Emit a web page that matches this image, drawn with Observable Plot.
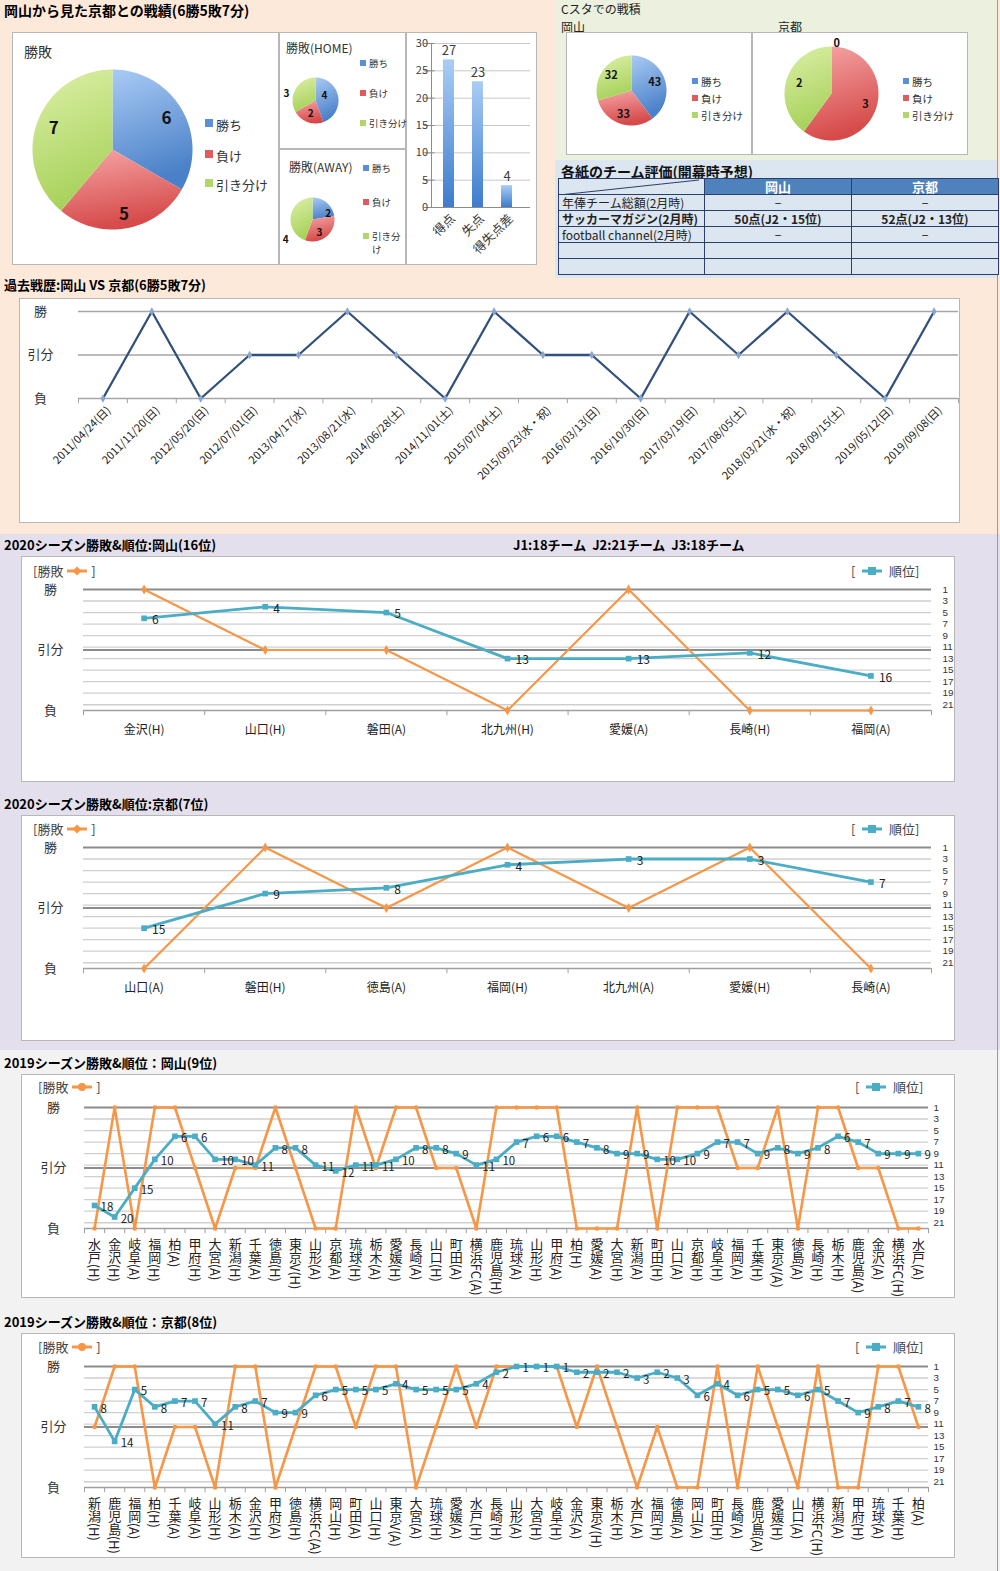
<!DOCTYPE html>
<html lang="ja"><head><meta charset="utf-8">
<script src="https://cdn.jsdelivr.net/npm/d3@7"></script>
<script src="https://cdn.jsdelivr.net/npm/@observablehq/plot@0.6"></script>
<style>
html,body{margin:0;padding:0;background:#fff;}
body{font-family:"Noto Sans CJK JP","Noto Sans",sans-serif;color:#000;}
#page{position:relative;width:1000px;height:1571px;overflow:hidden;}
.box{position:absolute;background:#fff;border:1px solid #b7b7b7;box-sizing:border-box;}
table.ev{position:absolute;border-collapse:collapse;table-layout:fixed;}
table.ev td{border:1px solid #2a3f6a;height:15px;padding:0 3px;font-size:12px;text-align:center;line-height:15px;background:#dce6f1;overflow:hidden;white-space:nowrap;color:#222;}
table.ev tr.hd td{background:#4f81bd;color:#fff;font-weight:bold;font-size:13px;line-height:15px;}
</style></head><body>
<svg width="0" height="0" style="position:absolute">
<defs>
<linearGradient id="gBlue" x1="0" y1="0" x2="0.25" y2="1"><stop offset="0" stop-color="#a9cbf4"/><stop offset="1" stop-color="#4a80c8"/></linearGradient>
<linearGradient id="gRed" x1="0" y1="0" x2="0.25" y2="1"><stop offset="0" stop-color="#f6a7a7"/><stop offset="1" stop-color="#d64a4a"/></linearGradient>
<linearGradient id="gGreen" x1="0" y1="0" x2="0.25" y2="1"><stop offset="0" stop-color="#ddf0a8"/><stop offset="1" stop-color="#a8d25c"/></linearGradient>
<linearGradient id="gBar" x1="0" y1="0" x2="0" y2="1"><stop offset="0" stop-color="#a9cdf5"/><stop offset="1" stop-color="#3d7ccd"/></linearGradient>
</defs></svg>
<div id="page"></div>
<script>
// ================= DATA =================
const pageTitle = "岡山から見た京都との戦績(6勝5敗7分)";
const resultNames = ["勝ち", "負け", "引き分け"];
const overallCounts = [6, 5, 7];
const homeCounts = [4, 2, 3];
const awayCounts = [2, 3, 4];

const goalLabels = ["得点", "失点", "得失点差"];
const goalValues = [27, 23, 4];
const goalTicks = [0, 5, 10, 15, 20, 25, 30];

const cstaOkayamaCounts = [43, 33, 32];
const cstaKyotoCounts = [0, 3, 2];

const tableTitle = "各紙のチーム評価(開幕時予想)";
const tableTeams = ["岡山", "京都"];
const tableRowLabels = ["年俸チーム総額(2月時)", "サッカーマガジン(2月時)", "football channel(2月時)", "", ""];
const tableOkayama = ["−", "50点(J2・15位)", "−", "", ""];
const tableKyoto = ["−", "52点(J2・13位)", "−", "", ""];

const histTitle = "過去戦歴:岡山 VS 京都(6勝5敗7分)";
const histDates = ["2011/04/24(日)", "2011/11/20(日)", "2012/05/20(日)", "2012/07/01(日)", "2013/04/17(水)", "2013/08/21(水)", "2014/06/28(土)", "2014/11/01(土)", "2015/07/04(土)", "2015/09/23(水・祝)", "2016/03/13(日)", "2016/10/30(日)", "2017/03/19(日)", "2017/08/05(土)", "2018/03/21(水・祝)", "2018/09/15(土)", "2019/05/12(日)", "2019/09/08(日)"];
const histResults = ["負", "勝", "負", "分", "分", "勝", "分", "負", "勝", "分", "分", "負", "勝", "分", "勝", "分", "負", "勝"];
const histLevelLabels = ["負", "引分", "勝"];

const resultTickLabels = ["勝", "引分", "負"];
const rankTicks = [1, 3, 5, 7, 9, 11, 13, 15, 17, 19, 21];

const okayama2020Title = "2020シーズン勝敗&順位:岡山(16位)";
const leagueNote = "J1:18チーム&nbsp;&nbsp;J2:21チーム&nbsp;&nbsp;J3:18チーム";
const okayama2020Opponents = ["金沢(H)", "山口(H)", "磐田(A)", "北九州(H)", "愛媛(A)", "長崎(H)", "福岡(A)"];
const okayama2020Results = ["勝", "分", "分", "負", "勝", "負", "負"];
const okayama2020Ranks = [6, 4, 5, 13, 13, 12, 16];

const kyoto2020Title = "2020シーズン勝敗&順位:京都(7位)";
const kyoto2020Opponents = ["山口(A)", "磐田(H)", "徳島(A)", "福岡(H)", "北九州(A)", "愛媛(H)", "長崎(A)"];
const kyoto2020Results = ["負", "勝", "分", "勝", "分", "勝", "負"];
const kyoto2020Ranks = [15, 9, 8, 4, 3, 3, 7];

const okayama2019Title = "2019シーズン勝敗&順位：岡山(9位)";
const okayama2019Opponents = ["水戸(H)", "金沢(H)", "岐阜(A)", "福岡(H)", "柏(A)", "甲府(H)", "大宮(A)", "新潟(H)", "千葉(A)", "徳島(H)", "東京V(H)", "山形(A)", "京都(A)", "琉球(H)", "栃木(A)", "愛媛(H)", "長崎(A)", "山口(H)", "町田(A)", "横浜FC(A)", "鹿児島(H)", "琉球(A)", "山形(H)", "甲府(A)", "柏(H)", "愛媛(A)", "大宮(H)", "新潟(A)", "町田(H)", "山口(A)", "京都(H)", "岐阜(H)", "福岡(A)", "千葉(H)", "東京V(A)", "徳島(A)", "長崎(H)", "栃木(H)", "鹿児島(A)", "金沢(A)", "横浜FC(H)", "水戸(A)"];
const okayama2019Results = ["負", "勝", "負", "勝", "勝", "分", "負", "分", "分", "勝", "分", "負", "負", "勝", "分", "勝", "勝", "分", "分", "負", "勝", "勝", "勝", "勝", "負", "負", "負", "勝", "負", "勝", "勝", "勝", "分", "分", "勝", "負", "勝", "勝", "分", "分", "負", "負"];
const okayama2019Ranks = [18, 20, 15, 10, 6, 6, 10, 10, 11, 8, 8, 11, 12, 11, 11, 10, 8, 8, 9, 11, 10, 7, 6, 6, 7, 8, 9, 9, 10, 10, 9, 7, 7, 9, 8, 9, 8, 6, 7, 9, 9, 9];

const kyoto2019Title = "2019シーズン勝敗&順位：京都(8位)";
const kyoto2019Opponents = ["新潟(H)", "鹿児島(H)", "福岡(A)", "柏(H)", "千葉(A)", "岐阜(A)", "山形(H)", "栃木(A)", "金沢(H)", "甲府(A)", "徳島(H)", "横浜FC(A)", "岡山(H)", "町田(A)", "山口(H)", "東京V(A)", "大宮(A)", "琉球(H)", "愛媛(A)", "水戸(H)", "長崎(H)", "山形(A)", "大宮(H)", "岐阜(H)", "金沢(A)", "東京V(H)", "栃木(H)", "水戸(A)", "福岡(H)", "徳島(A)", "岡山(A)", "町田(H)", "長崎(A)", "鹿児島(A)", "愛媛(H)", "山口(A)", "横浜FC(H)", "新潟(A)", "甲府(H)", "琉球(A)", "千葉(H)", "柏(A)"];
const kyoto2019Results = ["分", "勝", "勝", "負", "分", "分", "負", "勝", "勝", "負", "分", "勝", "勝", "分", "勝", "勝", "負", "分", "勝", "分", "勝", "勝", "勝", "勝", "分", "勝", "分", "負", "分", "負", "負", "勝", "負", "勝", "分", "負", "勝", "負", "負", "勝", "勝", "分"];
const kyoto2019Ranks = [8, 14, 5, 8, 7, 7, 11, 8, 7, 9, 9, 6, 5, 5, 5, 4, 5, 5, 5, 4, 2, 1, 1, 1, 2, 2, 2, 3, 2, 3, 6, 4, 6, 5, 5, 6, 5, 7, 9, 8, 7, 8];

// ================= HELPERS =================
const FONT = '"Noto Sans CJK JP","Noto Sans",sans-serif';
const NUMFONT = '"Liberation Sans Narrow","Liberation Sans",sans-serif';
const page = document.getElementById("page");
const sliceFill = ["url(#gBlue)", "url(#gRed)", "url(#gGreen)"];
const legendColor = ["#5b8fd6", "#e05c5c", "#b2d66a"];
const ORANGE = "#f79646", TEAL = "#4bacc6";

function addDiv(css, html = "") {
  const d = document.createElement("div");
  d.style.cssText = "position:absolute;" + css;
  d.innerHTML = html;
  page.appendChild(d);
  return d;
}
function txt(str, left, top, css = "") {
  return addDiv(`left:${left}px;top:${top}px;white-space:nowrap;line-height:1;${css}`, str);
}
function box(left, top, w, h) {
  const d = addDiv(`left:${left}px;top:${top}px;width:${w}px;height:${h}px;`);
  d.className = "box";
  return d;
}
function place(el, left, top) {
  el.style.position = "absolute";
  el.style.left = left + "px";
  el.style.top = top + "px";
  el.style.maxWidth = "none";
  page.appendChild(el);
  return el;
}
const baseStyle = {background: "transparent", fontFamily: FONT, overflow: "visible", color: "#333"};

function pieChart(counts, o) {
  const arcs = d3.pie().sort(null).startAngle(0).endAngle(2 * Math.PI)(counts);
  const marks = [];
  arcs.forEach((a, k) => {
    if (a.endAngle - a.startAngle <= 0) return;
    const steps = Math.max(3, Math.ceil((a.endAngle - a.startAngle) / 0.02));
    const pts = [{x: 0, y: 0}];
    for (let s = 0; s <= steps; s++) {
      const t = a.startAngle + (a.endAngle - a.startAngle) * s / steps;
      pts.push({x: Math.sin(t), y: Math.cos(t)});
    }
    pts.push({x: 0, y: 0});
    marks.push(Plot.line(pts, {x: "x", y: "y", fill: sliceFill[k], stroke: "none", curve: "linear"}));
  });
  const labels = arcs.map((a, k) => {
    const ang = o.labelA && o.labelA[k] != null ? o.labelA[k] * Math.PI / 180 : (a.startAngle + a.endAngle) / 2;
    const rr = o.labelR ? o.labelR[k] : 0.75;
    return {x: rr * Math.sin(ang), y: rr * Math.cos(ang), v: counts[k]};
  });
  marks.push(Plot.text(labels, {x: "x", y: "y", text: "v", fontWeight: "bold", fontSize: o.font, fill: "#111"}));
  const fig = Plot.plot({
    width: o.w, height: o.h,
    x: {domain: [-1, 1], range: [o.cx - o.left - o.r, o.cx - o.left + o.r], axis: null},
    y: {domain: [-1, 1], range: [o.cy - o.top + o.r, o.cy - o.top - o.r], axis: null},
    style: baseStyle, marks
  });
  place(fig, o.left, o.top);
}
function pieLegend(x, ys, font, sq, names = resultNames) {
  names.forEach((n, k) => {
    addDiv(`left:${x}px;top:${ys[k] - sq / 2}px;width:${sq}px;height:${sq}px;background:${legendColor[k]};`);
    txt(n, x + sq + 3, ys[k] - font / 2 - 1, `font-size:${font}px;color:#333;line-height:${Math.round(font * 1.35)}px;`);
  });
}
function legendIcon(color, symbol) {
  const shape = symbol === "diamond" ? `<path d="M11 1.5 L15.5 6 L11 10.5 L6.5 6 Z" fill="${color}"/>`
    : symbol === "circle" ? `<circle cx="11" cy="6" r="4" fill="${color}"/>`
    : `<rect x="7" y="2" width="8" height="8" fill="${color}"/>`;
  return `<svg width="22" height="12" style="vertical-align:-1px"><line x1="1" y1="6" x2="21" y2="6" stroke="${color}" stroke-width="3"/>${shape}</svg>`;
}
function seasonLegend(top, sym, lx, rx) {
  txt(`[勝敗 ${legendIcon(ORANGE, sym)} ]`, lx, top, "font-size:13px;color:#444;");
  txt(`[&nbsp; ${legendIcon(TEAL, "square")} &nbsp;順位]`, rx, top, "font-size:13px;color:#444;");
}

const resultToRankY = {"勝": 1, "分": 11.5, "負": 22};
const resultTickY = [1, 11.5, 22];

function seasonChart(opponents, results, ranks, top, vertical) {
  const n = opponents.length;
  const rows = opponents.map((o, i) => ({i, o, res: resultToRankY[results[i]], rank: ranks[i]}));
  const leftTicks = resultTickLabels.map((l, k) => ({l, y: resultTickY[k]}));
  const height = vertical ? 203 : 204;
  const marks = [
    Plot.ruleY(rankTicks.slice(1), {stroke: "#cfcfcf", strokeWidth: 1.3}),
    Plot.ruleY([1, 11.5], {stroke: "#8c8c8c", strokeWidth: 2.2}),
    Plot.ruleY([22], {stroke: "#a0a0a0", strokeWidth: 1.5}),
    Plot.ruleX(d3.range(n + 1), {x: d => d - 0.5, y1: 22, y2: 22.9, stroke: "#a0a0a0"}),
    Plot.text(leftTicks, {x: () => -0.5, y: "y", text: "l", dx: vertical ? -31 : -33, textAnchor: "middle", fontSize: 13, fill: "#333"}),
    Plot.text(rankTicks, {x: () => n - 0.5, y: d => d, text: d => d, dx: vertical ? 5 : 11, textAnchor: "start", fontSize: 9.8, fontFamily: NUMFONT, fill: "#333"}),
    Plot.line(rows, {x: "i", y: "res", stroke: ORANGE, strokeWidth: vertical ? 2.6 : 2.2}),
    Plot.dot(rows, {x: "i", y: "res", symbol: vertical ? "circle" : "diamond", r: vertical ? 2.3 : 3, fill: ORANGE, stroke: "none"}),
    Plot.line(rows, {x: "i", y: "rank", stroke: TEAL, strokeWidth: 2.8}),
    Plot.dot(rows, {x: "i", y: "rank", symbol: "square", r: 3.2, fill: TEAL, stroke: "none"}),
    Plot.text(rows, {x: "i", y: "rank", text: "rank", dx: vertical ? 6 : 8, dy: 2, textAnchor: "start", fontSize: vertical ? 11.5 : 12, fill: "#222"})
  ];
  if (vertical) {
    marks.push(Plot.text(rows, {x: "i", y: () => 22, text: "o", dy: 5, textAnchor: "start", fontSize: 13, fill: "#222", ariaLabel: "vlabel"}));
  } else {
    marks.push(Plot.text(rows, {x: "i", y: () => 22, text: "o", dy: 20, fontSize: 12, fill: "#222"}));
  }
  const svg = Plot.plot({
    width: 1000, height,
    marginLeft: vertical ? 84 : 83, marginRight: vertical ? 72 : 69,
    marginTop: 11, marginBottom: height - 11 - 121,
    x: {domain: [-0.5, n - 0.5], axis: null},
    y: {domain: [1, 22], reverse: true, axis: null},
    style: baseStyle, marks
  });
  if (vertical) {
    let g = svg.querySelector('g[aria-label="vlabel"]');
    if (!g) { const gs = svg.querySelectorAll(":scope > g"); g = gs[gs.length - 1]; }
    g.setAttribute("text-anchor", "start");
    g.querySelectorAll("text").forEach(t => {
      t.removeAttribute("dy");
      t.style.writingMode = "vertical-rl";
      t.setAttribute("writing-mode", "tb");
    });
  }
  place(svg, 0, top);
}

// ================= BACKGROUNDS =================
addDiv("left:0;top:0;width:1000px;height:534px;background:#fde9d9;");
addDiv("left:555px;top:0;width:443px;height:160px;background:#ebf1de;");
addDiv("left:555px;top:160px;width:443px;height:118px;background:#dce6f1;");
addDiv("left:0;top:534px;width:1000px;height:516px;background:#e4dfec;");
addDiv("left:0;top:1050px;width:1000px;height:521px;background:#f2f2f2;");
addDiv("left:997px;top:0;width:1px;height:1571px;background:#9a9a9a;");

// ================= TOP: PIES & BAR =================
txt(pageTitle, 4, 3, "font-size:14px;font-weight:bold;");
box(12, 32, 267, 233);
box(279, 32, 127, 117);
box(279, 149, 127, 116);
box(406, 32, 131, 233);

txt("勝敗", 24, 44, "font-size:14px;color:#333;");
pieChart(overallCounts, {left: 13, top: 33, w: 265, h: 231, cx: 112, cy: 149, r: 80, font: 17, labelR: [0.78, 0.82, 0.78]});
pieLegend(205, [123, 154, 183], 13, 8);

txt("勝敗(HOME)", 286, 42, "font-size:12px;color:#333;");
pieChart(homeCounts, {left: 280, top: 50, w: 125, h: 98, cx: 315, cy: 100, r: 23, font: 10, labelR: [0.45, 0.6, 1.3], labelA: [60, null, 283]});
pieLegend(360, [63, 93, 123], 9.5, 6);

txt("勝敗(AWAY)", 289, 161, "font-size:12px;color:#333;");
pieChart(awayCounts, {left: 280, top: 175, w: 125, h: 89, cx: 312, cy: 219, r: 22, font: 10, labelR: [0.77, 0.67, 1.53], labelA: [69, 152, 233]});
pieLegend(363, [168, 202, 236], 9.5, 6, ["勝ち", "負け", "引き分<br>け"]);

// goal bar chart
{
  const goalRows = goalLabels.map((c, i) => ({c, v: goalValues[i]}));
  const svg = Plot.plot({
    width: 131, height: 233, marginLeft: 19, marginRight: 7, marginTop: 11, marginBottom: 58,
    x: {domain: goalLabels, padding: 0.62, axis: null},
    y: {domain: [0, 30], axis: null},
    style: baseStyle,
    marks: [
      Plot.ruleY(goalTicks.slice(1), {stroke: "#c8c8c8"}),
      Plot.ruleX([goalLabels[0]], {dx: -17.5, stroke: "#8c8c8c"}),
      Plot.tickY(goalTicks, {x: () => goalLabels[0], dx: -19.5, stroke: "#8c8c8c"}),
      Plot.barY(goalRows, {x: "c", y: "v", fill: "url(#gBar)"}),
      Plot.ruleY([0], {stroke: "#8c8c8c"}),
      Plot.text(goalRows, {x: "c", y: "v", text: d => String(d.v), dy: -9, fontSize: 13, fill: "#404040"}),
      Plot.text(goalTicks, {x: () => goalLabels[0], y: d => d, text: d => String(d), dx: -21, textAnchor: "end", fontSize: 11, fill: "#404040"}),
      Plot.text(goalRows, {x: "c", y: () => 0, text: "c", rotate: -45, textAnchor: "end", dx: 4, dy: 9, fontSize: 12.5, fill: "#333"})
    ]
  });
  place(svg, 406, 32);
}

// C-sta section
txt("Cスタでの戦積", 561, 3, "font-size:12px;color:#222;");
txt("岡山", 561, 21, "font-size:12px;color:#222;");
txt("京都", 778, 21, "font-size:12px;color:#222;");
box(566, 32, 186, 123);
box(752, 32, 216, 123);
pieChart(cstaOkayamaCounts, {left: 567, top: 33, w: 120, h: 121, cx: 631, cy: 90, r: 35, font: 11, labelR: [0.7, 0.72, 0.72]});
pieLegend(692, [81, 98, 115], 10.5, 6);
pieChart(cstaKyotoCounts, {left: 753, top: 33, w: 140, h: 121, cx: 831, cy: 93, r: 47, font: 11, labelR: [1.08, 0.76, 0.72], labelA: [6, null, null]});
pieLegend(903, [81, 98, 115], 10.5, 6);

// evaluation table
txt(tableTitle, 561, 164, "font-size:14px;font-weight:bold;color:#111;");
{
  const t = document.createElement("table");
  t.className = "ev";
  t.style.left = "558px"; t.style.top = "178px"; t.style.width = "440px";
  let html = `<colgroup><col style="width:146px"><col style="width:147px"><col style="width:147px"></colgroup>`;
  html += `<tr class="hd"><td style="background:#dce6f1;position:relative;"><svg width="146" height="16" style="position:absolute;left:0;top:0"><line x1="0" y1="16" x2="140" y2="1" stroke="#2a3f6a" stroke-width="1"/></svg></td><td>${tableTeams[0]}</td><td>${tableTeams[1]}</td></tr>`;
  tableRowLabels.forEach((l, k) => {
    const b = k === 1 ? "font-weight:bold;" : "";
    html += `<tr><td style="text-align:left;${b}">${l}</td><td style="${b}">${tableOkayama[k]}</td><td style="${b}">${tableKyoto[k]}</td></tr>`;
  });
  t.innerHTML = html;
  page.appendChild(t);
}

// ================= HISTORY =================
txt(histTitle, 4, 278, "font-size:13px;font-weight:bold;");
box(19, 298, 941, 225);
{
  const histY = {"勝": 2, "分": 1, "負": 0};
  const rows = histDates.map((d, i) => ({i, d, v: histY[histResults[i]]}));
  const levels = histLevelLabels.map((l, k) => ({l, v: k}));
  const svg = Plot.plot({
    width: 1000, height: 225, marginLeft: 78, marginRight: 42, marginTop: 13, marginBottom: 125,
    x: {domain: [-0.5, histDates.length - 0.5], axis: null},
    y: {domain: [0, 2], axis: null},
    style: baseStyle,
    marks: [
      Plot.ruleY([0, 1, 2], {stroke: "#a6a6a6", strokeWidth: 1.4}),
      Plot.ruleX(d3.range(histDates.length + 1), {x: d => d - 0.5, y1: 0, y2: -0.12, stroke: "#a6a6a6"}),
      Plot.text(levels, {x: () => -0.5, y: "v", text: "l", dx: -38, textAnchor: "middle", fontSize: 13, fill: "#333"}),
      Plot.line(rows, {x: "i", y: "v", stroke: "#31507c", strokeWidth: 2.3}),
      Plot.dot(rows, {x: "i", y: "v", symbol: "diamond", r: 2.6, fill: "#8aa6cc", stroke: "none"}),
      Plot.text(rows, {x: "i", y: () => 0, text: "d", rotate: -45, textAnchor: "end", dx: 6, dy: 10, fontSize: 11, fill: "#222"})
    ]
  });
  place(svg, 0, 298);
}

// ================= 2020 =================
txt(okayama2020Title, 4, 538, "font-size:13px;font-weight:bold;");
txt(leagueNote, 513, 538, "font-size:13px;font-weight:bold;");
box(21, 556, 934, 226);
seasonLegend(564, "diamond", 33, 851);
seasonChart(okayama2020Opponents, okayama2020Results, okayama2020Ranks, 578, false);

txt(kyoto2020Title, 4, 797, "font-size:13px;font-weight:bold;");
box(21, 815, 934, 226);
seasonLegend(822, "diamond", 33, 851);
seasonChart(kyoto2020Opponents, kyoto2020Results, kyoto2020Ranks, 836, false);

// ================= 2019 =================
txt(okayama2019Title, 4, 1056, "font-size:13px;font-weight:bold;");
box(21, 1074, 934, 224);
seasonLegend(1080, "circle", 38, 855);
seasonChart(okayama2019Opponents, okayama2019Results, okayama2019Ranks, 1096, true);

txt(kyoto2019Title, 4, 1315, "font-size:13px;font-weight:bold;");
box(21, 1333, 934, 225);
seasonLegend(1340, "circle", 38, 855);
seasonChart(kyoto2019Opponents, kyoto2019Results, kyoto2019Ranks, 1355, true);
</script>
</body></html>
